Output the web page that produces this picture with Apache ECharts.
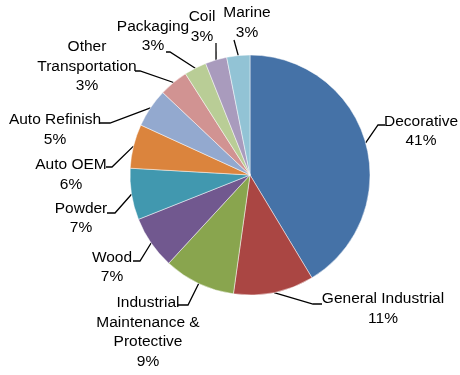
<!DOCTYPE html>
<html>
<head>
<meta charset="utf-8">
<script src="https://cdn.jsdelivr.net/npm/echarts@6/dist/echarts.min.js"></script>
<style>html,body{margin:0;padding:0;background:#fff;}#c{width:460px;height:375px;}</style>
</head>
<body>
<div id="c"></div>
<script>
var categories = ['Decorative', 'General Industrial', 'Industrial\nMaintenance &\nProtective', 'Wood', 'Powder', 'Auto OEM', 'Auto Refinish', 'Other\nTransportation', 'Packaging', 'Coil', 'Marine'];
var values = [41.2, 10.8, 9.6, 7.1, 6.9, 5.9, 5.2, 3.9, 3.0, 2.9, 3.1];
var shownPct = ['41%', '11%', '9%', '7%', '7%', '6%', '5%', '3%', '3%', '3%', '3%'];
var colors = ['#4572A7', '#AA4643', '#89A54E', '#71588F', '#4198AF', '#DB843D', '#93A9CF', '#D19392', '#B9CD96', '#A99BBD', '#92C3D5'];

// label placement (text block centre, leader bend, leader end) in pixels
var labelCenter = [[421, 131], [383, 308.5], [148, 332], [112, 267], [81, 218], [71, 174.5], [55, 129.5], [87, 66.5], [153, 36], [202, 26.5], [247, 22.5]];
var leaderBend = [[378, 125], [313, 304], [188, 305], [140, 261], [115, 213], [112, 167], [110, 123], [140, 71], [170, 52], [216, 43], [234, 40]];
var leaderEnd = [[385, 125], [322, 304], [178, 305], [133, 261], [107, 213], [106, 167], [100, 123], [135, 71], [166, 52], [216, 43], [234, 40]];

var chart = echarts.init(document.getElementById('c'));
chart.setOption({
  animation: false,
  series: [{
    type: 'pie',
    center: [250, 175],
    radius: 120,
    startAngle: 90,
    clockwise: true,
    avoidLabelOverlap: false,
    data: categories.map(function (n, i) {
      return { name: n, value: values[i], itemStyle: { color: colors[i] } };
    }),
    itemStyle: { borderColor: 'rgba(255,255,255,0.6)', borderWidth: 0.8 },
    label: {
      show: true,
      position: 'outside',
      formatter: function (p) { return p.name + '\n' + shownPct[p.dataIndex]; },
      fontFamily: 'Liberation Sans, Arial, sans-serif',
      fontSize: 15.5,
      lineHeight: 19.5,
      color: '#000',
      align: 'center'
    },
    labelLine: {
      show: true,
      length: 8,
      length2: 10,
      lineStyle: { color: '#000', width: 1.3 }
    },
    labelLayout: function (p) {
      var i = p.dataIndex;
      var start = p.labelLinePoints ? p.labelLinePoints[0] : leaderBend[i];
      return {
        x: labelCenter[i][0],
        y: labelCenter[i][1],
        align: 'center',
        verticalAlign: 'middle',
        labelLinePoints: [start, leaderBend[i], leaderEnd[i]]
      };
    }
  }]
});
</script>
</body>
</html>
